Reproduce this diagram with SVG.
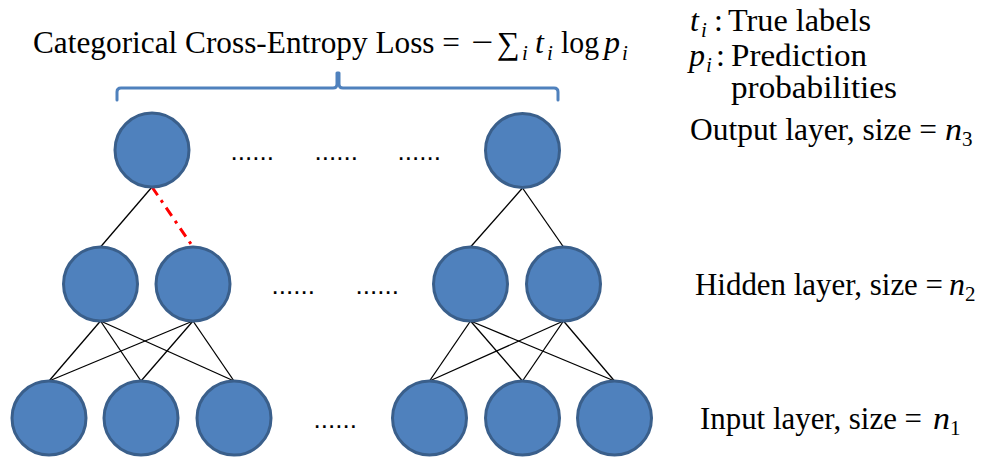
<svg xmlns="http://www.w3.org/2000/svg" width="982" height="457" viewBox="0 0 982 457">
  <style>
    .node { fill: #4F81BD; stroke: #3A5F8B; stroke-width: 3; }
    .edge { stroke: #000; stroke-width: 1.3; fill: none; }
    .loss { stroke: #FF0000; stroke-width: 3; stroke-dasharray: 10 6 3 6; fill: none; }
    .brace { stroke: #4F81BD; stroke-width: 3; fill: none; stroke-linejoin: round; stroke-linecap: round; }
    .lbl { font-family: "Liberation Serif", "Times New Roman", serif; font-size: 32px; fill: #000; }
    .it { font-style: italic; }
    .sub { font-size: 21px; }
    .sum { font-size: 32px; }
    .dots { font-family: "Liberation Sans", Arial, sans-serif; font-size: 26px; fill: #000; }
  </style>
  <rect width="982" height="457" fill="#fff"/>

  <!-- loss formula -->
  <g id="formula">
    <text class="lbl" x="33" y="53" textLength="427" lengthAdjust="spacingAndGlyphs">Categorical Cross-Entropy Loss =</text>
    <text class="lbl" x="471" y="53" textLength="22" lengthAdjust="spacingAndGlyphs">−</text>
    <text class="lbl sum" x="497" y="54">∑</text>
    <text class="lbl it sub" x="522" y="60">i</text>
    <text class="lbl it" x="535" y="53">t</text>
    <text class="lbl it sub" x="547" y="60">i</text>
    <text class="lbl" x="561" y="53" textLength="38" lengthAdjust="spacingAndGlyphs">log</text>
    <text class="lbl it" x="604" y="53">p</text>
    <text class="lbl it sub" x="622" y="60">i</text>
  </g>

  <!-- brace spanning the output layer -->
  <g id="brace">
    <path class="brace" d="M117,100 L117,92 Q117,88 121,88 L333,88 Q337,88 337,84 L337,73 L339,73 L339,84 Q339,88 343,88 L554,88 Q558,88 558,92 L558,100"/>
  </g>

  <!-- legend -->
  <g id="legend">
    <text class="lbl it" x="690" y="31">t</text>
    <text class="lbl it sub" x="701" y="37">i</text>
    <text class="lbl" x="714" y="31">:</text>
    <text class="lbl" x="728" y="31" textLength="143" lengthAdjust="spacingAndGlyphs">True labels</text>
    <text class="lbl it" x="689" y="66">p</text>
    <text class="lbl it sub" x="706" y="72">i</text>
    <text class="lbl" x="716" y="66">:</text>
    <text class="lbl" x="731" y="66" textLength="136" lengthAdjust="spacingAndGlyphs">Prediction</text>
    <text class="lbl" x="731" y="98" textLength="166" lengthAdjust="spacingAndGlyphs">probabilities</text>
  </g>

  <!-- layer labels -->
  <g id="label-output">
    <text class="lbl" x="690" y="140" textLength="247" lengthAdjust="spacingAndGlyphs">Output layer, size =</text>
    <text class="lbl it" x="945" y="140" textLength="17" lengthAdjust="spacingAndGlyphs">n</text>
    <text class="lbl sub" x="962" y="146">3</text>
  </g>
  <g id="label-hidden">
    <text class="lbl" x="695" y="295" textLength="248" lengthAdjust="spacingAndGlyphs">Hidden layer, size =</text>
    <text class="lbl it" x="949" y="295" textLength="16" lengthAdjust="spacingAndGlyphs">n</text>
    <text class="lbl sub" x="965" y="301">2</text>
  </g>
  <g id="label-input">
    <text class="lbl" x="700" y="429" textLength="222" lengthAdjust="spacingAndGlyphs">Input layer, size =</text>
    <text class="lbl it" x="933" y="429" textLength="17" lengthAdjust="spacingAndGlyphs">n</text>
    <text class="lbl sub" x="950" y="435">1</text>
  </g>

  <!-- connections -->
  <g id="connectors">
    <line class="edge" x1="152" y1="187" x2="100.5" y2="247"/>
    <line class="loss" x1="152" y1="187" x2="193" y2="247"/>
    <line class="edge" x1="522.5" y1="188" x2="470.5" y2="247"/>
    <line class="edge" x1="522.5" y1="188" x2="563.5" y2="247"/>

    <line class="edge" x1="100.5" y1="321" x2="49" y2="381"/>
    <line class="edge" x1="100.5" y1="321" x2="141" y2="381"/>
    <line class="edge" x1="100.5" y1="321" x2="234" y2="381"/>
    <line class="edge" x1="193" y1="321" x2="49" y2="381"/>
    <line class="edge" x1="193" y1="321" x2="141" y2="381"/>
    <line class="edge" x1="193" y1="321" x2="234" y2="381"/>

    <line class="edge" x1="470.5" y1="321" x2="429.5" y2="381"/>
    <line class="edge" x1="470.5" y1="321" x2="522.5" y2="381"/>
    <line class="edge" x1="470.5" y1="321" x2="614.5" y2="381"/>
    <line class="edge" x1="563.5" y1="321" x2="429.5" y2="381"/>
    <line class="edge" x1="563.5" y1="321" x2="522.5" y2="381"/>
    <line class="edge" x1="563.5" y1="321" x2="614.5" y2="381"/>
  </g>

  <!-- output layer -->
  <g id="out-1"><circle class="node" cx="152" cy="150" r="37"/></g>
  <g id="out-n"><circle class="node" cx="522.5" cy="150.5" r="37"/></g>

  <!-- hidden layer -->
  <g id="hid-1"><circle class="node" cx="100.5" cy="284" r="37"/></g>
  <g id="hid-2"><circle class="node" cx="193" cy="284" r="37"/></g>
  <g id="hid-n1"><circle class="node" cx="470.5" cy="284" r="37"/></g>
  <g id="hid-n"><circle class="node" cx="563.5" cy="284" r="37"/></g>

  <!-- input layer -->
  <g id="in-1"><circle class="node" cx="49" cy="418" r="37"/></g>
  <g id="in-2"><circle class="node" cx="141" cy="418" r="37"/></g>
  <g id="in-3"><circle class="node" cx="234" cy="418" r="37"/></g>
  <g id="in-n2"><circle class="node" cx="429.5" cy="418" r="37"/></g>
  <g id="in-n1"><circle class="node" cx="522.5" cy="418" r="37"/></g>
  <g id="in-n"><circle class="node" cx="614.5" cy="418" r="37"/></g>

  <!-- ellipses between nodes -->
  <g id="ellipses">
    <text class="dots" x="230.6" y="160">......</text>
    <text class="dots" x="314.6" y="160">......</text>
    <text class="dots" x="397.6" y="160">......</text>
    <text class="dots" x="271.6" y="294">......</text>
    <text class="dots" x="355.6" y="294">......</text>
    <text class="dots" x="313.6" y="428">......</text>
  </g>
</svg>
